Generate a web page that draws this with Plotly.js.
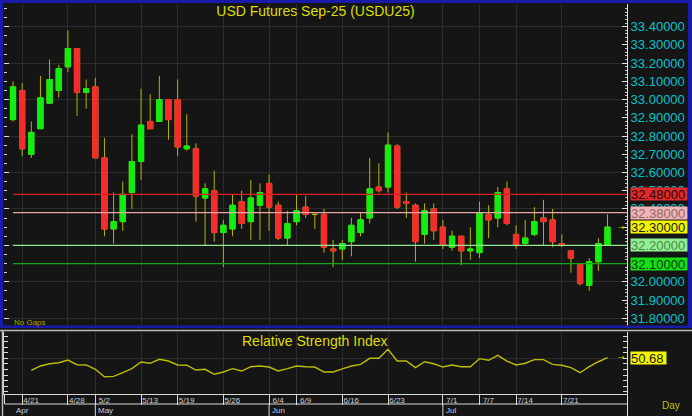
<!DOCTYPE html>
<html>
<head>
<meta charset="utf-8">
<script src="https://cdn.plot.ly/plotly-3.0.1.min.js"></script>
<style>
  html, body { margin: 0; padding: 0; background: #151515; }
  #chart { width: 692px; height: 416px; }
</style>
</head>
<body>
<div id="chart"></div>
<script>
// ---------------- DATA ----------------
const dates = ['4/18','4/21','4/22','4/23','4/24','4/25','4/28','4/29','4/30','5/2',
  '5/6','5/7','5/8','5/9','5/13','5/14','5/15','5/16','5/19','5/20',
  '5/21','5/22','5/23','5/26','5/27','5/28','5/29','5/30','6/4','6/5',
  '6/6','6/9','6/10','6/11','6/12','6/13','6/16','6/17','6/18','6/19',
  '6/20','6/23','6/24','6/25','6/26','6/27','6/30','7/1','7/2','7/3',
  '7/4','7/7','7/8','7/9','7/11','7/14','7/15','7/16','7/17','7/18',
  '7/21','7/22','7/23','7/24','7/25','7/29'];

const opens = [32.89,33.05,32.70,32.84,32.98,33.05,33.18,33.28,33.04,33.07,
  32.68,32.29,32.33,32.49,32.66,32.88,32.88,33.00,33.00,32.73,
  32.73,32.46,32.50,32.27,32.29,32.44,32.33,32.42,32.54,32.42,
  32.24,32.33,32.41,32.37,32.37,32.18,32.18,32.22,32.27,32.35,
  32.52,32.52,32.745,32.44,32.42,32.26,32.40,32.30,32.19,32.25,
  32.17,32.16,32.37,32.35,32.51,32.26,32.21,32.26,32.35,32.34,
  32.21,32.17,32.10,31.98,32.11,32.20];
const highs = [33.10,33.09,32.88,33.13,33.22,33.19,33.38,33.28,33.11,33.12,
  32.79,32.49,32.55,32.81,33.06,33.03,33.13,33.00,33.11,32.92,
  32.76,32.54,32.61,32.34,32.48,32.50,32.56,32.54,32.59,32.44,
  32.39,32.48,32.47,32.37,32.40,32.23,32.23,32.35,32.38,32.68,
  32.65,32.82,32.755,32.49,32.43,32.43,32.43,32.34,32.28,32.25,
  32.30,32.44,32.42,32.52,32.55,32.31,32.34,32.41,32.45,32.40,
  32.26,32.17,32.10,32.13,32.24,32.37];
const lows = [32.88,32.69,32.68,32.84,32.98,33.01,33.15,32.91,32.95,32.68,
  32.25,32.21,32.28,32.40,32.56,32.84,32.88,32.78,32.69,32.72,
  32.33,32.20,32.22,32.08,32.25,32.29,32.23,32.23,32.28,32.23,
  32.20,32.31,32.35,32.29,32.16,32.08,32.12,32.14,32.25,32.32,
  32.49,32.49,32.40,32.35,32.11,32.21,32.23,32.18,32.17,32.09,
  32.12,32.13,32.24,32.30,32.31,32.18,32.20,32.25,32.20,32.19,
  32.19,32.05,31.98,31.95,32.06,32.20];
const closes = [33.07,32.73,32.82,33.01,33.11,33.17,33.28,33.04,33.06,32.68,
  32.29,32.33,32.48,32.66,32.86,32.84,33.00,32.89,32.74,32.745,
  32.47,32.51,32.27,32.31,32.42,32.32,32.46,32.49,32.41,32.24,
  32.32,32.39,32.37,32.37,32.19,32.17,32.21,32.31,32.34,32.51,
  32.50,32.75,32.41,32.43,32.22,32.39,32.28,32.20,32.25,32.17,
  32.18,32.38,32.34,32.49,32.32,32.20,32.24,32.33,32.33,32.22,
  32.20,32.13,31.99,32.11,32.21,32.30];

const rsi = [null,null,36.7,41.5,44.0,45.1,48.1,42.9,42.6,37.8,
  29.6,29.9,34.0,38.5,45.9,44.5,48.9,47.0,42.6,42.3,
  37.0,37.8,32.3,34.8,38.5,35.9,40.7,41.5,40.3,35.9,
  38.5,41.5,40.7,40.3,34.8,34.8,38.2,41.5,43.3,50.0,
  50.0,60.0,47.0,47.0,39.6,46.2,44.0,40.3,42.6,40.7,
  40.7,49.6,47.8,53.3,47.0,42.6,44.5,48.5,48.5,43.3,
  42.3,39.6,34.0,40.7,46.2,50.68];

const tickDates = ['4/21','4/28','5/2','5/13','5/19','5/26','6/4','6/9','6/16','6/23','7/1','7/7','7/14','7/21'];
const monthNames = ['Apr','May','Jun','Jul'];
const monthStarts = ['4/18','5/2','6/4','7/1'];
const priceTicks = [31.8,31.9,32.0,32.1,32.2,32.3,32.4,32.5,32.6,32.7,32.8,32.9,33.0,33.1,33.2,33.3,33.4];
const priceGrid = [31.8,32.0,32.2,32.4,32.6,32.8,33.0,33.2,33.4];
const levelPrices = [32.48, 32.38, 32.20, 32.10];

const chartTitle = 'USD Futures Sep-25 (USDU25)';
const rsiTitle = 'Relative Strength Index';

// ---------------- STYLE ----------------
const W = 692, H = 416;
const px = v => v / W;
const py = v => 1 - v / H;
const BG = '#151515', GRID = '#2c2c2c', BLUE = '#1a1aa8';
const WICK = '#b4b400', GREEN = '#11ee11', RED = '#f52c2c';
const FONT = 'Liberation Sans, Arial, sans-serif';
const levelLine = ['#d82020', '#eaa6a6', '#92e892', '#14a814'];
const levelBox = ['#e02a2a', '#f2b4b4', '#92f092', '#14e014'];
const levelText = ['#2a0606', '#8a6a6a', '#4a8a4a', '#063806'];

const xIdx = dates.map((d, i) => i);
const tickIdx = tickDates.map(d => dates.indexOf(d));
const monthIdx = monthStarts.map(d => dates.indexOf(d));

// body-only arrays (derived), doji skipped
const bodyHi = opens.map((o, i) => o === closes[i] ? null : Math.max(o, closes[i]));
const bodyLo = opens.map((o, i) => o === closes[i] ? null : Math.min(o, closes[i]));
const bodyO = opens.map((o, i) => o === closes[i] ? null : o);
const bodyC = closes.map((c, i) => c === opens[i] ? null : c);

const xRange = [-0.984, 67.13];
const pRange = [31.7573, 33.5246];
const rRange = [10.35, 79.24];

const traces = [
  { type: 'candlestick', x: xIdx, open: opens, high: highs, low: lows, close: closes,
    xaxis: 'x', yaxis: 'y', whiskerwidth: 0, showlegend: false, hoverinfo: 'skip',
    increasing: { line: { color: WICK, width: 1 }, fillcolor: 'rgba(0,0,0,0)' },
    decreasing: { line: { color: WICK, width: 1 }, fillcolor: 'rgba(0,0,0,0)' } },
  { type: 'candlestick', x: xIdx, open: bodyO, high: bodyHi, low: bodyLo, close: bodyC,
    xaxis: 'x', yaxis: 'y', whiskerwidth: 0, showlegend: false, hoverinfo: 'skip',
    increasing: { line: { color: GREEN, width: 1 }, fillcolor: GREEN },
    decreasing: { line: { color: RED, width: 1 }, fillcolor: RED } },
  { type: 'scatter', mode: 'lines', x: xIdx, y: rsi, xaxis: 'x2', yaxis: 'y3',
    line: { color: '#bcbc00', width: 1.4 }, showlegend: false, hoverinfo: 'skip' },
  // invisible carriers so the right-hand axes are drawn
  { type: 'scatter', mode: 'lines', x: xIdx, y: closes, xaxis: 'x', yaxis: 'y2',
    opacity: 0, line: { width: 0 }, showlegend: false, hoverinfo: 'skip' },
  { type: 'scatter', mode: 'lines', x: xIdx, y: rsi, xaxis: 'x2', yaxis: 'y4',
    opacity: 0, line: { width: 0 }, showlegend: false, hoverinfo: 'skip' }
];

const shapes = [];
levelPrices.forEach((p, i) => {
  shapes.push({ type: 'line', xref: 'x', yref: 'y', x0: 0, x1: xRange[1], y0: p, y1: p,
    line: { color: levelLine[i], width: 1.2 } });
});
// frame pieces
shapes.push({ type: 'rect', xref: 'paper', yref: 'paper', x0: 0, x1: 1, y0: py(3), y1: 1, fillcolor: BLUE, line: { width: 0 } });
shapes.push({ type: 'rect', xref: 'paper', yref: 'paper', x0: 0, x1: px(3), y0: py(328), y1: 1, fillcolor: BLUE, line: { width: 0 } });
shapes.push({ type: 'rect', xref: 'paper', yref: 'paper', x0: px(688), x1: 1, y0: py(328), y1: 1, fillcolor: BLUE, line: { width: 0 } });
shapes.push({ type: 'rect', xref: 'paper', yref: 'paper', x0: 0, x1: 1, y0: py(328), y1: py(325.5), fillcolor: BLUE, line: { width: 0 } });
shapes.push({ type: 'line', xref: 'paper', yref: 'paper', x0: 0, x1: 1, y0: py(330.5), y1: py(330.5), line: { color: '#bdbdbd', width: 1.5 } });
shapes.push({ type: 'line', xref: 'paper', yref: 'paper', x0: px(2.5), x1: px(2.5), y0: 0, y1: py(330.5), line: { color: '#bdbdbd', width: 1.5 } });
shapes.push({ type: 'line', xref: 'paper', yref: 'paper', x0: px(627.5), x1: px(627.5), y0: 0, y1: py(394), line: { color: '#e0e0e0', width: 1 } });
shapes.push({ type: 'line', xref: 'paper', yref: 'paper', x0: px(4.5), x1: px(4.5), y0: py(404), y1: py(394), line: { color: '#e0e0e0', width: 1 } });
shapes.push({ type: 'line', xref: 'paper', yref: 'paper', x0: px(5), x1: px(628), y0: py(404), y1: py(404), line: { color: '#d8d8d8', width: 1 } });
monthIdx.slice(1).forEach(m => {
  shapes.push({ type: 'line', xref: 'x2', yref: 'paper', x0: m, x1: m, y0: 0, y1: py(404), line: { color: '#d8d8d8', width: 1 } });
});

const annotations = [];
annotations.push({ text: rsiTitle, xref: 'paper', yref: 'paper', x: px(314.5), y: py(341), xanchor: 'center', yanchor: 'middle',
  showarrow: false, font: { family: FONT, size: 14, color: '#dede00' } });
annotations.push({ text: 'No Gaps', xref: 'paper', yref: 'paper', x: px(12), y: py(322.5), xanchor: 'left', yanchor: 'middle',
  showarrow: false, font: { family: FONT, size: 8, color: '#a8a800' } });
annotations.push({ text: 'Day', xref: 'paper', yref: 'paper', x: px(671), y: py(405), xanchor: 'center', yanchor: 'middle',
  showarrow: false, font: { family: FONT, size: 10, color: '#c0c000' } });
levelPrices.forEach((p, i) => {
  annotations.push({ text: p.toFixed(5), xref: 'paper', yref: 'y', x: px(630), y: p, xanchor: 'left', yanchor: 'middle',
    width: 56, height: 12, align: 'left', borderpad: 0, bgcolor: levelBox[i], showarrow: false,
    font: { family: FONT, size: 13, color: levelText[i] } });
});
const lastClose = closes[closes.length - 1];
const lastRsi = rsi[rsi.length - 1];
annotations.push({ text: lastClose.toFixed(5), xref: 'paper', yref: 'y', x: px(630), y: lastClose, xanchor: 'left', yanchor: 'middle',
  width: 56, height: 12, align: 'left', borderpad: 0, bgcolor: '#f4f400', showarrow: false,
  font: { family: FONT, size: 13, color: '#202020' } });
annotations.push({ text: lastRsi.toFixed(2), xref: 'paper', yref: 'y3', x: px(630), y: lastRsi, xanchor: 'left', yanchor: 'middle',
  width: 35, height: 12, align: 'left', borderpad: 0, bgcolor: '#f4f400', showarrow: false,
  font: { family: FONT, size: 13, color: '#202020' } });
[['y', lastClose], ['y3', lastRsi]].forEach(([ref, v]) => {
  annotations.push({ text: '→', xref: 'paper', yref: ref, x: px(621), y: v, xanchor: 'center', yanchor: 'middle',
    showarrow: false, font: { family: 'DejaVu Sans', size: 8, color: '#c8c800' } });
});
monthNames.forEach((m, i) => {
  annotations.push({ text: m, xref: 'x2', yref: 'paper', x: monthIdx[i], y: py(410), xanchor: 'left', yanchor: 'middle',
    xshift: 1, showarrow: false, font: { family: FONT, size: 8, color: '#c4cce0' } });
});

const layout = {
  width: W, height: H,
  margin: { l: 0, r: 0, t: 0, b: 0, pad: 0 },
  paper_bgcolor: BG, plot_bgcolor: BG,
  showlegend: false, hovermode: false, dragmode: false,
  boxgap: 0.18, boxmode: 'overlay',
  title: { text: chartTitle, x: px(315.5), xanchor: 'center', xref: 'paper', y: py(11), yanchor: 'middle', yref: 'paper',
    font: { family: FONT, size: 14, color: '#dede00' } },
  xaxis: { domain: [px(4), px(627)], anchor: 'y', range: xRange, type: 'linear',
    tickmode: 'array', tickvals: tickIdx, ticks: '', showticklabels: false,
    showgrid: true, gridcolor: GRID, gridwidth: 1, zeroline: false, showline: false, rangeslider: { visible: false } },
  yaxis: { domain: [py(326), py(4)], anchor: 'x', range: pRange, side: 'left',
    tickmode: 'array', tickvals: priceGrid, ticks: 'inside', ticklen: 5, tickcolor: '#dcdcdc', showticklabels: false,
    showgrid: true, gridcolor: GRID, zeroline: false, showline: false,
    minor: { tick0: 31.8, dtick: 0.05, ticks: 'inside', ticklen: 3, tickcolor: '#cfcfcf', showgrid: false } },
  yaxis2: { overlaying: 'y', anchor: 'x', side: 'right', range: pRange,
    tickmode: 'array', tickvals: priceTicks, tickformat: '.5f', ticks: 'inside', ticklen: 5, tickcolor: '#e6e6e6',
    showline: true, linecolor: '#e0e0e0', linewidth: 1, showgrid: false, zeroline: false,
    tickfont: { family: FONT, size: 13, color: '#00c4cc' },
    minor: { tick0: 31.8, dtick: 0.02, ticks: 'inside', ticklen: 2, tickcolor: '#bdbdbd', showgrid: false } },
  xaxis2: { domain: [px(4), px(627)], anchor: 'y3', matches: 'x', range: xRange, type: 'linear',
    tickmode: 'array', tickvals: tickIdx, ticktext: tickDates, ticks: 'outside', ticklen: 10, tickcolor: '#d8d8d8', tickwidth: 1,
    ticklabelshift: 9, ticklabelstandoff: -12,
    tickfont: { family: FONT, size: 8, color: '#d0d0d8' },
    showline: true, linecolor: '#d8d8d8', linewidth: 1, showgrid: true, gridcolor: GRID, zeroline: false },
  yaxis3: { domain: [py(394), py(332)], anchor: 'x2', range: rRange, side: 'left',
    tickmode: 'array', tickvals: [50], ticks: 'inside', ticklen: 4, tickcolor: '#dcdcdc', showticklabels: false,
    showgrid: true, gridcolor: GRID, zeroline: false, showline: true, linecolor: '#e0e0e0',
    minor: { tick0: 50, dtick: 6.19, ticks: 'inside', ticklen: 4, tickcolor: '#dcdcdc', showgrid: false } },
  yaxis4: { overlaying: 'y3', anchor: 'x2', side: 'right', range: rRange,
    tickmode: 'linear', tick0: 50, dtick: 6.19, ticks: 'inside', ticklen: 4, tickcolor: '#dcdcdc', showticklabels: false,
    showgrid: false, zeroline: false, showline: true, linecolor: '#e0e0e0' },
  shapes: shapes,
  annotations: annotations
};

Plotly.newPlot('chart', traces, layout, { staticPlot: true, displayModeBar: false });
</script>
</body>
</html>
